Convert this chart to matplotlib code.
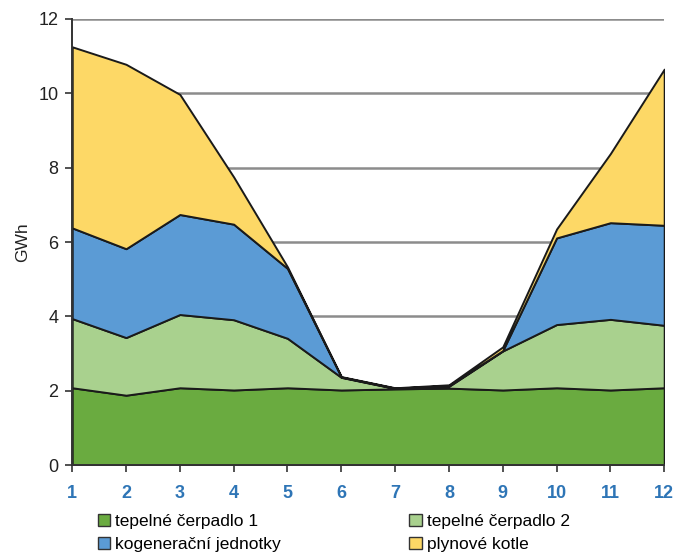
import matplotlib
matplotlib.use("Agg")
import matplotlib.pyplot as plt
from matplotlib.patches import Patch
import numpy as np

plt.rcParams['font.family'] = ['Liberation Sans', 'DejaVu Sans']

months = [1, 2, 3, 4, 5, 6, 7, 8, 9, 10, 11, 12]
tepelne_cerpadlo_1 = [2.08, 1.88, 2.08, 2.02, 2.08, 2.02, 2.05, 2.07, 2.02, 2.08, 2.02, 2.08]
tepelne_cerpadlo_2 = [1.86, 1.55, 1.97, 1.89, 1.33, 0.34, 0.01, 0.05, 1.05, 1.70, 1.90, 1.68]
kogeneracni_jednotky = [2.44, 2.39, 2.69, 2.57, 1.88, 0.01, 0.01, 0.02, 0.01, 2.33, 2.60, 2.69]
plynove_kotle = [4.87, 4.96, 3.23, 1.27, 0.04, 0.01, 0.01, 0.02, 0.10, 0.24, 1.86, 4.20]

labels = ["tepelné čerpadlo 1", "tepelné čerpadlo 2", "kogenerační jednotky", "plynové kotle"]
colors = ["#6aab40", "#a9d18e", "#5b9bd5", "#fdd866"]
y_ticks = [0, 2, 4, 6, 8, 10, 12]

fig = plt.figure(figsize=(6.75, 5.57), dpi=100)
ax = fig.add_axes([0.107, 0.165, 0.877, 0.801])

ax.set_axisbelow(True)
for t in y_ticks[1:]:
    ax.axhline(t, color="#8c8c8c", linewidth=1.8, zorder=0)

ax.stackplot(months, tepelne_cerpadlo_1, tepelne_cerpadlo_2, kogeneracni_jednotky, plynove_kotle,
             colors=colors, edgecolor="#1a1a1a", linewidth=1.4, zorder=2)

ax.set_xlim(1, 12)
ax.set_ylim(0, 12)
ax.set_xticks(months)
ax.set_yticks(y_ticks)
ax.tick_params(axis="x", direction="out", length=5, width=1.2, colors="#333333",
               labelcolor="#2e75b6", labelsize=13, pad=9)
ax.tick_params(axis="y", direction="out", length=5, width=1.2, colors="#333333",
               labelcolor="#222222", labelsize=13, pad=5)
for lbl in ax.get_xticklabels():
    lbl.set_fontweight("bold")

for side in ["top", "right"]:
    ax.spines[side].set_visible(False)
for side in ["left", "bottom"]:
    ax.spines[side].set_color("#333333")
    ax.spines[side].set_linewidth(1.4)
ax.spines["left"].set_zorder(3)

ax.set_ylabel("GWh", fontsize=12.5, color="#222222", labelpad=6)

order = [0, 2, 1, 3]
handles = [Patch(facecolor=colors[i], edgecolor="#333333", linewidth=1.0) for i in order]
fig.legend(handles, [labels[i] for i in order], ncol=2, loc="upper left",
           bbox_to_anchor=(0.145, 0.078), frameon=False, fontsize=12.5,
           handlelength=0.7, handleheight=0.7, handletextpad=0.3,
           columnspacing=7.4, labelspacing=0.45, borderaxespad=0, borderpad=0)

fig.savefig("out.png", dpi=100)
